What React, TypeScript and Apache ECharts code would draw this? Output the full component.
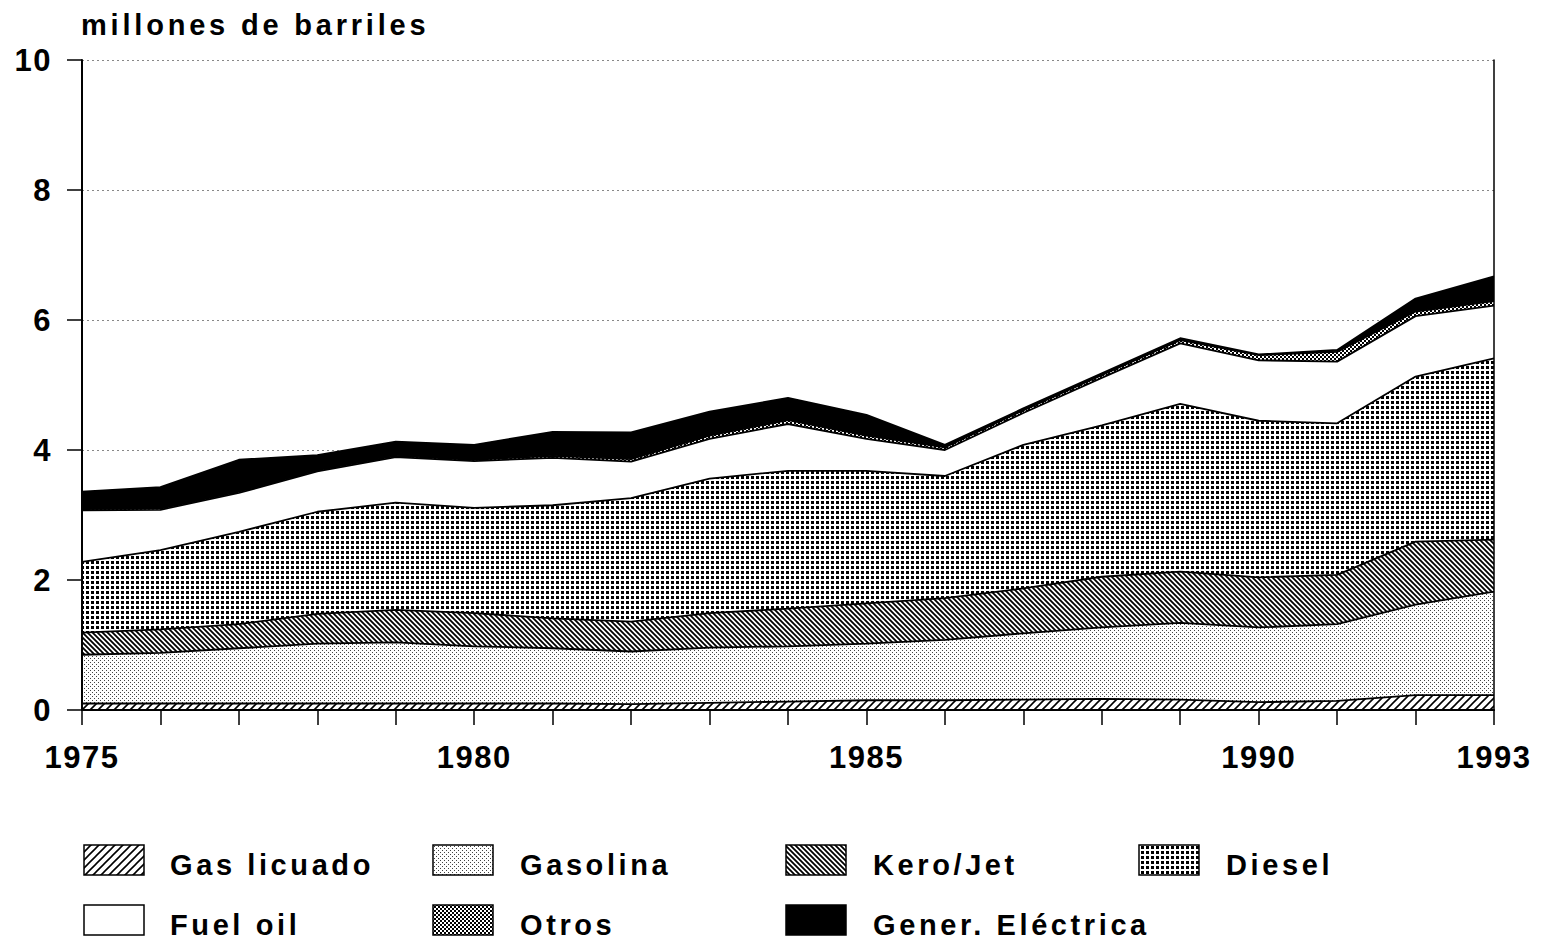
import React, { useEffect, useRef } from 'react';
import * as echarts from 'echarts';

const years = ['1975','1976','1977','1978','1979','1980','1981','1982','1983','1984','1985','1986','1987','1988','1989','1990','1991','1992','1993'];
const shownYears = ['1975', '1980', '1985', '1990', '1993'];
const yTicks = [0, 2, 4, 6, 8, 10];

const gasLicuado = [0.10,0.10,0.10,0.10,0.10,0.10,0.10,0.09,0.11,0.13,0.15,0.15,0.16,0.17,0.16,0.12,0.14,0.23,0.23];
const gasolina = [0.75,0.78,0.85,0.92,0.94,0.88,0.85,0.81,0.85,0.85,0.87,0.93,1.02,1.10,1.18,1.15,1.18,1.39,1.59];
const keroJet = [0.34,0.36,0.37,0.46,0.50,0.51,0.46,0.46,0.53,0.58,0.62,0.64,0.69,0.78,0.79,0.77,0.76,0.97,0.80];
const diesel = [1.09,1.22,1.42,1.57,1.65,1.62,1.74,1.90,2.07,2.12,2.04,1.88,2.21,2.33,2.58,2.41,2.33,2.54,2.79];
const fuelOil = [0.79,0.62,0.60,0.62,0.70,0.72,0.73,0.56,0.61,0.72,0.49,0.40,0.49,0.73,0.93,0.93,0.95,0.93,0.81];
const otros = [0.02,0.02,0.02,0.02,0.02,0.02,0.03,0.04,0.05,0.06,0.05,0.04,0.04,0.04,0.05,0.08,0.15,0.07,0.07];
const generElectrica = [0.27,0.33,0.49,0.23,0.22,0.23,0.37,0.41,0.37,0.34,0.32,0.04,0.03,0.03,0.03,0.01,0.03,0.20,0.38];

const titleText = 'millones de barriles';
const FONT = '"Liberation Sans", Arial, Helvetica, sans-serif';

function pattern(inner: string, w: number, h: number) {
  const svg = `<svg xmlns="http://www.w3.org/2000/svg" width="${w}" height="${h}" shape-rendering="crispEdges">${inner}</svg>`;
  return {
    image: 'data:image/svg+xml;charset=utf-8,' + encodeURIComponent(svg),
    repeat: 'repeat',
    imageWidth: w,
    imageHeight: h,
  };
}

const patGas = pattern('<rect width="8" height="8" fill="#fff"/><path d="M0 8 L8 0 M-2 2 L2 -2 M6 10 L10 6" stroke="#000" stroke-width="1.6" shape-rendering="auto"/>', 8, 8);
const patGasolina = pattern('<rect width="4" height="4" fill="#fff"/><rect x="0" y="0" width="1" height="1" fill="#444"/><rect x="2" y="2" width="1" height="1" fill="#444"/>', 4, 4);
const patKero = pattern('<rect width="5" height="5" fill="#fff"/><path d="M0 0 L5 5 M-1 4 L1 6 M4 -1 L6 1" stroke="#000" stroke-width="1.8" shape-rendering="auto"/>', 5, 5);
const patDiesel = pattern('<rect width="5" height="5" fill="#fff"/><rect x="1" y="1" width="3" height="3" fill="#000"/>', 5, 5);
const patOtros = pattern('<rect width="4" height="4" fill="#fff"/><rect x="0" y="0" width="2" height="2" fill="#000"/><rect x="2" y="2" width="2" height="2" fill="#000"/>', 4, 4);

const seriesDefs = [
  { name: 'Gas licuado', data: gasLicuado, fill: patGas as any },
  { name: 'Gasolina', data: gasolina, fill: patGasolina as any },
  { name: 'Kero/Jet', data: keroJet, fill: patKero as any },
  { name: 'Diesel', data: diesel, fill: patDiesel as any },
  { name: 'Fuel oil', data: fuelOil, fill: '#ffffff' as any },
  { name: 'Otros', data: otros, fill: patOtros as any },
  { name: 'Gener. Eléctrica', data: generElectrica, fill: '#000000' as any },
];

// legend layout (order: row-major, 4 columns)
const legendColSwatchX = [84, 433, 786, 1139];
const legendColTextX = [170, 520, 873, 1226];
const legendRowTop = [845, 905];

export default function App() {
  const ref = useRef<HTMLDivElement>(null);

  useEffect(() => {
    document.body.style.margin = '0';
    document.body.style.overflow = 'hidden';
    const el = ref.current!;
    const chart = echarts.init(el, undefined, { renderer: 'svg' });

    const graphics: any[] = [
      {
        type: 'text',
        left: 81,
        top: 10,
        style: { text: titleText, font: `bold 29px ${FONT}`, fill: '#000' },
      },
    ];
    seriesDefs.forEach((s, i) => {
      const col = i % 4;
      const row = Math.floor(i / 4);
      graphics.push({
        type: 'rect',
        shape: { x: legendColSwatchX[col], y: legendRowTop[row], width: 60, height: 30 },
        style: { fill: s.fill, stroke: '#000', lineWidth: 1.5 },
      });
      graphics.push({
        type: 'text',
        x: legendColTextX[col],
        y: legendRowTop[row] + 20,
        style: {
          text: s.name,
          font: `bold 29px ${FONT}`,
          lineHeight: 26,
          fill: '#000',
          align: 'left',
          verticalAlign: 'middle',
        },
      });
    });

    const option: any = {
      animation: false,
      backgroundColor: '#ffffff',
      grid: { left: 82, right: 47, top: 60, bottom: 230, show: false },
      xAxis: [
        {
          type: 'category',
          data: years,
          boundaryGap: false,
          position: 'bottom',
          z: 30,
          axisLine: { show: true, lineStyle: { color: '#000', width: 2 } },
          axisTick: { show: true, interval: 0, length: 15, lineStyle: { color: '#000', width: 1.5 } },
          axisLabel: {
            interval: (_i: number, v: string) => shownYears.includes(v),
            margin: 32,
            color: '#000',
            fontFamily: FONT,
            fontWeight: 'bold',
            fontSize: 31,
          },
          splitLine: { show: false },
        },
        {
          type: 'category',
          data: years,
          boundaryGap: false,
          position: 'top',
          z: 30,
          axisLine: { show: true, lineStyle: { color: '#000', width: 1.2 } },
          axisTick: { show: false },
          axisLabel: { show: false },
          splitLine: { show: false },
        },
      ],
      yAxis: [
        {
          type: 'value',
          min: yTicks[0],
          max: yTicks[yTicks.length - 1],
          interval: 2,
          z: 0,
          axisLine: { show: false },
          axisTick: { show: false },
          axisLabel: { show: false },
          splitLine: { show: true, lineStyle: { color: '#888', width: 1, type: [2, 3] } },
        },
        {
          type: 'value',
          min: yTicks[0],
          max: yTicks[yTicks.length - 1],
          interval: 2,
          position: 'left',
          z: 30,
          axisLine: { show: true, lineStyle: { color: '#000', width: 2 } },
          axisTick: { show: true, length: 15, lineStyle: { color: '#000', width: 1.5 } },
          axisLabel: {
            margin: 30,
            color: '#000',
            fontFamily: FONT,
            fontWeight: 'bold',
            fontSize: 31,
          },
          splitLine: { show: false },
        },
        {
          type: 'value',
          min: yTicks[0],
          max: yTicks[yTicks.length - 1],
          interval: 2,
          position: 'right',
          z: 30,
          axisLine: { show: true, lineStyle: { color: '#000', width: 1.5 } },
          axisTick: { show: false },
          axisLabel: { show: false },
          splitLine: { show: false },
        },
      ],
      series: seriesDefs.map((s, i) => ({
        type: 'line',
        name: s.name,
        stack: 'total',
        data: s.data,
        xAxisIndex: 0,
        yAxisIndex: 0,
        symbol: 'none',
        showSymbol: false,
        z: 20 - i,
        lineStyle: { color: '#000', width: 1.8 },
        itemStyle: { color: '#000' },
        areaStyle: { color: s.fill, opacity: 1 },
        emphasis: { disabled: true },
        silent: true,
      })),
      graphic: graphics,
    };

    chart.setOption(option);

    const legendNames = seriesDefs.map((s) => s.name);
    const applySpacing = () => {
      el.querySelectorAll('text').forEach((t) => {
        const s = (t.textContent || '').trim();
        if (s === titleText) t.setAttribute('letter-spacing', '3.8');
        else if (legendNames.includes(s)) t.setAttribute('letter-spacing', '3.6');
        else t.setAttribute('letter-spacing', '1.5');
      });
    };
    applySpacing();
    chart.on('finished', applySpacing);

    return () => {
      chart.dispose();
    };
  }, []);

  return <div ref={ref} style={{ width: 1541, height: 940 }} />;
}
